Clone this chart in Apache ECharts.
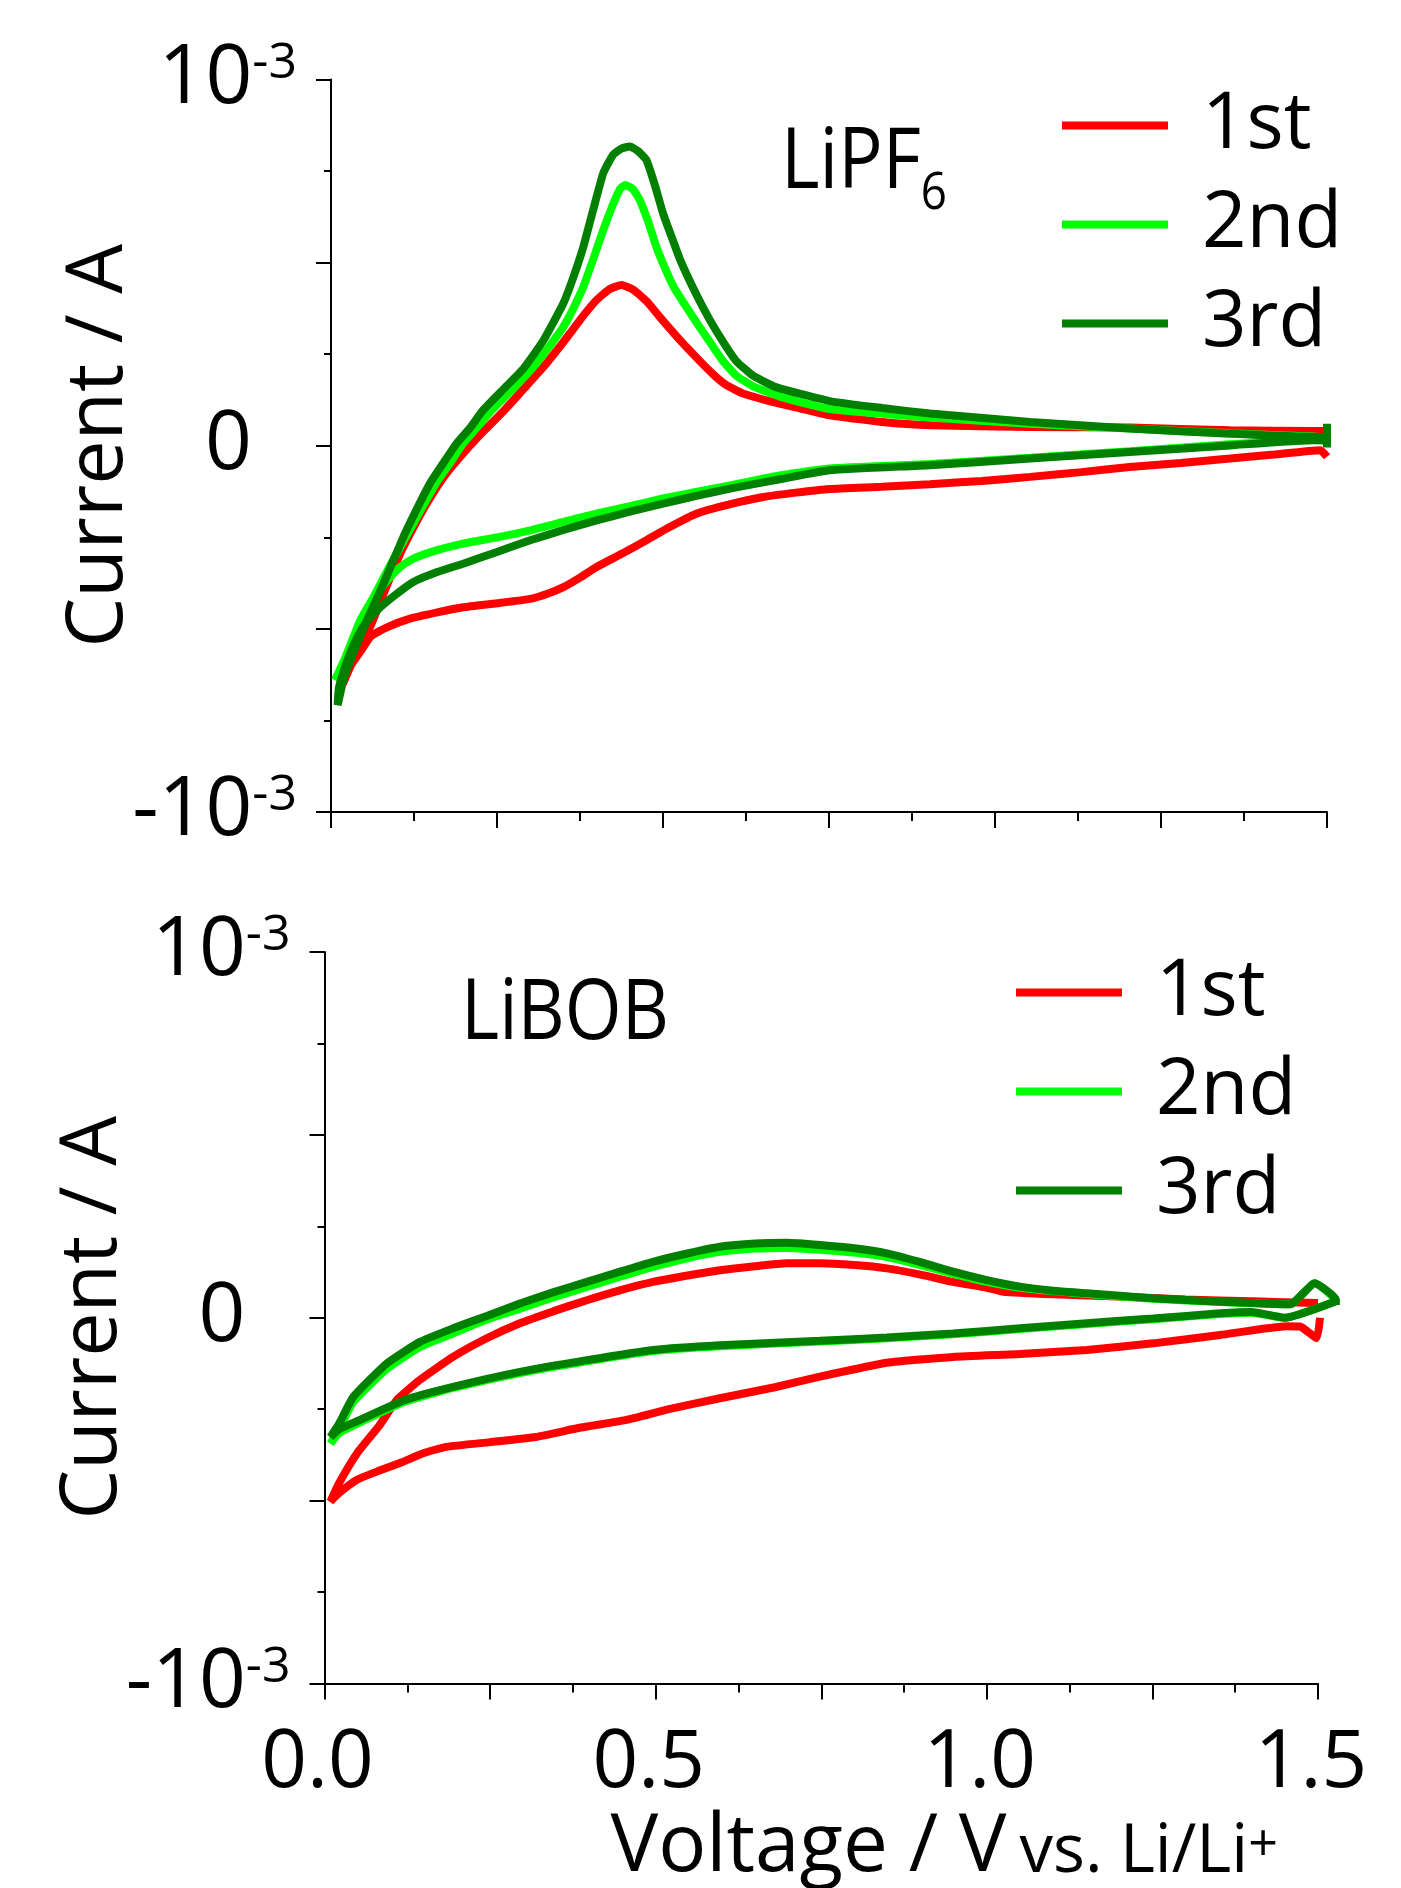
<!DOCTYPE html>
<html>
<head>
<meta charset="utf-8">
<title>CV LiPF6 / LiBOB</title>
<script src="https://cdn.jsdelivr.net/npm/echarts@6/dist/echarts.min.js"></script>
<style>
  html, body { margin: 0; padding: 0; background: #fff; }
  #chart { width: 1401px; height: 1888px; }
</style>
</head>
<body>
<div id="chart"></div>
<script>
// current in units of 1e-3 A, voltage in V vs. Li/Li+
// each cycle: cathodic sweep 1.5 V -> 0 V, then anodic sweep back to 1.5 V
const lipf6First = [
  [1.50, -0.03], [1.49, -0.012], [1.42, -0.024], [1.354, -0.035], [1.28, -0.047], [1.203, -0.058],
  [1.13, -0.072], [1.053, -0.085], [0.98, -0.096], [0.902, -0.105], [0.83, -0.112], [0.751, -0.118],
  [0.70, -0.128], [0.651, -0.14], [0.60, -0.16], [0.551, -0.185], [0.51, -0.222], [0.475, -0.258],
  [0.44, -0.293], [0.40, -0.331], [0.375, -0.36], [0.35, -0.386], [0.325, -0.405], [0.30, -0.418],
  [0.25, -0.43], [0.199, -0.441], [0.16, -0.455], [0.119, -0.472], [0.085, -0.495], [0.06, -0.52],
  [0.045, -0.56], [0.03, -0.6], [0.018, -0.65],
  [0.025, -0.61], [0.04, -0.56], [0.06, -0.49], [0.08, -0.40], [0.104, -0.295], [0.125, -0.22],
  [0.144, -0.158], [0.17, -0.085], [0.199, -0.021], [0.23, 0.04], [0.26, 0.095], [0.29, 0.155],
  [0.32, 0.215], [0.34, 0.26], [0.36, 0.307], [0.38, 0.355], [0.40, 0.398], [0.42, 0.428],
  [0.438, 0.439], [0.456, 0.425], [0.475, 0.395], [0.495, 0.352], [0.515, 0.31], [0.535, 0.27],
  [0.555, 0.232], [0.575, 0.196], [0.595, 0.166], [0.62, 0.143], [0.66, 0.122], [0.70, 0.105],
  [0.751, 0.083], [0.83, 0.065], [0.902, 0.056], [1.053, 0.051], [1.203, 0.05], [1.354, 0.042],
  [1.479, 0.04], [1.50, 0.04]
];
const lipf6Second = [
  [1.50, 0.015], [1.479, 0.016], [1.354, 0.004], [1.203, -0.015], [1.053, -0.033], [0.902, -0.05],
  [0.751, -0.062], [0.68, -0.08], [0.601, -0.108], [0.55, -0.126], [0.50, -0.144], [0.45, -0.165],
  [0.40, -0.185], [0.35, -0.208], [0.30, -0.231], [0.25, -0.25], [0.199, -0.267], [0.16, -0.285],
  [0.124, -0.308], [0.105, -0.33], [0.089, -0.359], [0.075, -0.39], [0.06, -0.44], [0.04, -0.51],
  [0.02, -0.585], [0.006, -0.64],
  [0.02, -0.585], [0.044, -0.477], [0.065, -0.41], [0.088, -0.33], [0.117, -0.235], [0.14, -0.16],
  [0.158, -0.103], [0.18, -0.045], [0.198, 0.004], [0.22, 0.05], [0.24, 0.093], [0.27, 0.148],
  [0.30, 0.205], [0.32, 0.25], [0.35, 0.325], [0.365, 0.375], [0.38, 0.434], [0.395, 0.51],
  [0.41, 0.589], [0.425, 0.66], [0.435, 0.70], [0.443, 0.712], [0.455, 0.70], [0.465, 0.671],
  [0.478, 0.61], [0.49, 0.543], [0.503, 0.485], [0.516, 0.434], [0.533, 0.385], [0.551, 0.335],
  [0.57, 0.285], [0.59, 0.232], [0.61, 0.192], [0.635, 0.163], [0.68, 0.132], [0.751, 0.1],
  [0.83, 0.087], [0.902, 0.077], [1.053, 0.06], [1.203, 0.047], [1.354, 0.034], [1.479, 0.025],
  [1.50, 0.022]
];
const lipf6Third = [
  [1.50, 0.015], [1.479, 0.015], [1.354, 0.001], [1.203, -0.017], [1.053, -0.035], [0.902, -0.053],
  [0.751, -0.067], [0.68, -0.09], [0.601, -0.117], [0.55, -0.137], [0.50, -0.158], [0.45, -0.18],
  [0.40, -0.204], [0.35, -0.23], [0.30, -0.258], [0.25, -0.29], [0.199, -0.322], [0.16, -0.345],
  [0.124, -0.372], [0.095, -0.41], [0.069, -0.45], [0.05, -0.49], [0.035, -0.54], [0.022, -0.6],
  [0.012, -0.66], [0.01, -0.708],
  [0.02, -0.63], [0.035, -0.56], [0.054, -0.477], [0.079, -0.377], [0.109, -0.249], [0.13, -0.17],
  [0.149, -0.103], [0.17, -0.045], [0.189, 0.006], [0.21, 0.05], [0.229, 0.097], [0.26, 0.155],
  [0.29, 0.211], [0.32, 0.288], [0.35, 0.389], [0.365, 0.46], [0.38, 0.543], [0.395, 0.645],
  [0.41, 0.744], [0.425, 0.795], [0.438, 0.812], [0.45, 0.817], [0.462, 0.805], [0.475, 0.78],
  [0.488, 0.71], [0.50, 0.635], [0.513, 0.57], [0.526, 0.507], [0.551, 0.41], [0.57, 0.345],
  [0.59, 0.285], [0.61, 0.232], [0.635, 0.192], [0.67, 0.16], [0.751, 0.122], [0.83, 0.103],
  [0.902, 0.088], [1.053, 0.065], [1.203, 0.047], [1.354, 0.033], [1.479, 0.024], [1.50, 0.024],
  [1.50, 0.06], [1.50, -0.005]
];

const libobFirst = [
  [1.503, 0.0], [1.498, -0.056], [1.473, -0.024], [1.453, -0.023], [1.352, -0.047], [1.251, -0.07],
  [1.151, -0.088], [1.05, -0.099], [0.949, -0.107], [0.849, -0.123], [0.748, -0.161], [0.68, -0.19],
  [0.597, -0.22], [0.52, -0.25], [0.454, -0.28], [0.387, -0.30], [0.319, -0.326], [0.25, -0.34],
  [0.184, -0.353], [0.15, -0.37], [0.117, -0.395], [0.08, -0.42], [0.049, -0.443], [0.022, -0.479],
  [0.009, -0.502],
  [0.022, -0.452], [0.049, -0.371], [0.083, -0.294], [0.109, -0.225], [0.144, -0.17], [0.194, -0.107],
  [0.245, -0.056], [0.295, -0.015], [0.346, 0.018], [0.396, 0.048], [0.446, 0.075], [0.496, 0.098],
  [0.546, 0.115], [0.597, 0.13], [0.65, 0.141], [0.698, 0.149], [0.748, 0.149], [0.80, 0.144],
  [0.849, 0.135], [0.90, 0.118], [0.949, 0.098], [1.0, 0.082], [1.025, 0.071], [1.10, 0.064],
  [1.20, 0.058], [1.30, 0.05], [1.40, 0.045], [1.50, 0.04]
];
const libobSecond = [
  [1.527, 0.045], [1.45, 0.0], [1.40, 0.014], [1.352, 0.01], [1.251, -0.004], [1.151, -0.017],
  [1.05, -0.031], [0.949, -0.045], [0.849, -0.056], [0.748, -0.065], [0.597, -0.078], [0.496, -0.091],
  [0.396, -0.119], [0.295, -0.151], [0.194, -0.192], [0.121, -0.23], [0.049, -0.29], [0.022, -0.315],
  [0.009, -0.344],
  [0.022, -0.305], [0.0435, -0.23], [0.094, -0.14], [0.144, -0.08], [0.194, -0.043], [0.245, -0.005],
  [0.295, 0.025], [0.346, 0.056], [0.396, 0.084], [0.446, 0.112], [0.496, 0.139], [0.546, 0.162],
  [0.597, 0.18], [0.65, 0.189], [0.698, 0.191], [0.748, 0.186], [0.80, 0.178], [0.849, 0.166],
  [0.90, 0.144], [0.949, 0.12], [1.0, 0.098], [1.05, 0.082], [1.151, 0.065], [1.251, 0.052],
  [1.352, 0.043], [1.458, 0.037], [1.495, 0.094], [1.527, 0.05]
];
const libobThird = [
  [1.527, 0.045], [1.45, 0.0], [1.40, 0.016], [1.352, 0.012], [1.251, -0.002], [1.151, -0.015],
  [1.05, -0.029], [0.949, -0.043], [0.849, -0.054], [0.748, -0.063], [0.597, -0.075], [0.496, -0.088],
  [0.396, -0.116], [0.295, -0.148], [0.194, -0.189], [0.121, -0.225], [0.049, -0.283], [0.022, -0.305],
  [0.009, -0.326],
  [0.022, -0.29], [0.0435, -0.216], [0.094, -0.125], [0.144, -0.066], [0.194, -0.029], [0.245, 0.005],
  [0.295, 0.039], [0.346, 0.07], [0.396, 0.098], [0.446, 0.126], [0.496, 0.153], [0.546, 0.175],
  [0.597, 0.194], [0.65, 0.203], [0.698, 0.205], [0.748, 0.199], [0.80, 0.19], [0.849, 0.176],
  [0.90, 0.152], [0.949, 0.126], [1.0, 0.103], [1.05, 0.085], [1.10, 0.074], [1.151, 0.067],
  [1.251, 0.053], [1.352, 0.044], [1.458, 0.037], [1.495, 0.094], [1.527, 0.05], [1.527, 0.035]
];

const cycleNames = ['1st', '2nd', '3rd'];
const cycleColors = ['#ff0000', '#00ff00', '#007f00'];
const xTickLabels = ['0.0', '0.5', '1.0', '1.5'];

const FONT = 'Open Sans';

// plot boxes (px)
const TOP_BOX = { left: 331, top: 79.5, width: 996, height: 732.5, outerBoundsMode: 'none' };
const BOT_BOX = { left: 324.5, top: 952, width: 993.5, height: 731.5, outerBoundsMode: 'none' };
// the LiBOB sweeps run a little past 1.5 V, so they sit on a hidden, wider x scale
// that keeps the same px per volt as the visible axis
const X_OVER = 1.6;

const chart = echarts.init(document.getElementById('chart'), null, { renderer: 'canvas' });

function yLabel(v) {
  if (v === 1) return '{n|10}{s|-3}';
  if (v === -1) return '{n|-10}{s|-3}';
  if (v === 0) return '{z|0}';
  return '';
}

function xLabel(v) {
  const idx = [0, 0.5, 1, 1.5].indexOf(v);
  return idx >= 0 ? xTickLabels[idx] : '';
}

const yRich = {
  n: { fontSize: 82, lineHeight: 82, fontFamily: FONT, color: '#000' },
  s: { fontSize: 50, lineHeight: 50, fontFamily: FONT, color: '#000', verticalAlign: 'top' },
  z: { fontSize: 82, lineHeight: 82, fontFamily: FONT, color: '#000', padding: [0, 45, 0, 0] }
};

function makeX(gridIndex, showLabels) {
  return {
    type: 'value',
    gridIndex: gridIndex,
    min: 0,
    max: 1.5,
    interval: 0.25,
    axisLine: { show: true, onZero: false, lineStyle: { color: '#000', width: 2 } },
    axisTick: { show: true, length: 16, lineStyle: { color: '#000', width: 2 } },
    minorTick: { show: true, splitNumber: 2, length: 9, lineStyle: { color: '#000', width: 2 } },
    splitLine: { show: false },
    axisLabel: {
      show: showLabels,
      formatter: xLabel,
      margin: 41,
      fontSize: 80,
      fontFamily: FONT,
      color: '#000',
      padding: [0, 14, 0, 0]
    }
  };
}

function makeY(gridIndex) {
  return {
    type: 'value',
    gridIndex: gridIndex,
    min: -1,
    max: 1,
    interval: 0.5,
    name: 'Current / A',
    nameLocation: 'middle',
    nameGap: 192,
    nameMoveOverlap: false,
    nameTextStyle: { fontSize: 79, lineHeight: 79, fontFamily: FONT, color: '#000' },
    axisLine: { show: true, onZero: false, lineStyle: { color: '#000', width: 2 } },
    axisTick: { show: true, length: 15, lineStyle: { color: '#000', width: 2 } },
    minorTick: { show: true, splitNumber: 2, length: 7, lineStyle: { color: '#000', width: 2 } },
    splitLine: { show: false },
    axisLabel: { formatter: yLabel, margin: 34, rich: yRich }
  };
}

function cvSeries(name, data, color, idx) {
  return {
    name: name,
    type: 'line',
    xAxisIndex: idx,
    yAxisIndex: idx,
    data: data,
    showSymbol: false,
    smooth: 0.15,
    clip: false,
    lineStyle: { color: color, width: 8 },
    itemStyle: { color: color },
    emphasis: { disabled: true },
    animation: false
  };
}

function makeLegend(left, top) {
  return {
    data: cycleNames,
    orient: 'vertical',
    left: left,
    top: top,
    padding: 0,
    icon: 'rect',
    itemWidth: 106,
    itemHeight: 8,
    itemGap: 20,
    selectedMode: false,
    textStyle: { fontSize: 78, lineHeight: 79, fontFamily: FONT, color: '#000', padding: [0, 0, 0, 29] }
  };
}

const xBottom = makeX(1, true);
xBottom.name = '{a|Voltage / V}{b|vs. Li/Li}{c|+}';
xBottom.nameLocation = 'middle';
xBottom.nameGap = 127;
xBottom.nameMoveOverlap = false;
xBottom.nameTextStyle = {
  padding: [0, 0, 0, 246],
  rich: {
    a: { fontSize: 80, lineHeight: 76, fontFamily: FONT, color: '#000' },
    b: { fontSize: 67, lineHeight: 64, fontFamily: FONT, color: '#000', verticalAlign: 'bottom', padding: [0, 0, 0, 13] },
    c: { fontSize: 52, lineHeight: 52, fontFamily: FONT, color: '#000', verticalAlign: 'top', padding: [10, 0, 0, 0] }
  }
};

const xOver = {
  type: 'value', gridIndex: 2, min: 0, max: X_OVER, show: false
};
const yOver = {
  type: 'value', gridIndex: 2, min: -1, max: 1, show: false
};

chart.setOption({
  backgroundColor: '#fff',
  animation: false,
  grid: [
    TOP_BOX,
    BOT_BOX,
    {
      left: BOT_BOX.left, top: BOT_BOX.top, width: BOT_BOX.width * X_OVER / 1.5, height: BOT_BOX.height,
      outerBoundsMode: 'none'
    }
  ],
  xAxis: [makeX(0, false), xBottom, xOver],
  yAxis: [makeY(0), makeY(1), yOver],
  legend: [makeLegend(1062, 86), makeLegend(1016, 953)],
  graphic: [
    {
      type: 'text',
      left: 781,
      top: 122,
      scaleX: 0.88,
      style: {
        text: '{a|LiPF}{b|6}',
        rich: {
          a: { fontSize: 84, lineHeight: 84, fontFamily: FONT, fill: '#000', verticalAlign: 'top' },
          b: { fontSize: 52, lineHeight: 144, fontFamily: FONT, fill: '#000' }
        }
      }
    },
    {
      type: 'text',
      left: 461,
      top: 972,
      scaleX: 0.87,
      style: { text: 'LiBOB', fontSize: 84, lineHeight: 86, fontFamily: FONT, fill: '#000' }
    }
  ],
  series: [
    cvSeries(cycleNames[0], lipf6First, cycleColors[0], 0),
    cvSeries(cycleNames[1], lipf6Second, cycleColors[1], 0),
    cvSeries(cycleNames[2], lipf6Third, cycleColors[2], 0),
    cvSeries(cycleNames[0], libobFirst, cycleColors[0], 2),
    cvSeries(cycleNames[1], libobSecond, cycleColors[1], 2),
    cvSeries(cycleNames[2], libobThird, cycleColors[2], 2)
  ]
});
</script>
</body>
</html>
